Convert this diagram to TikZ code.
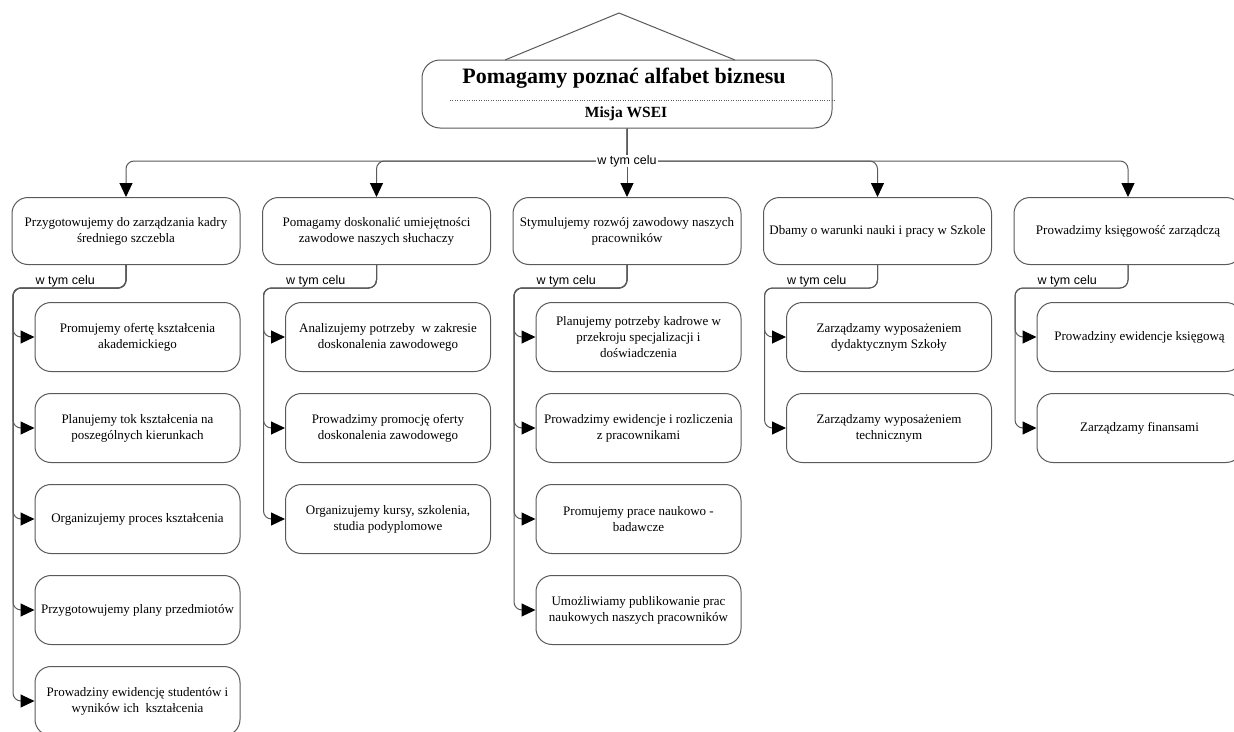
\documentclass[tikz,border=0pt]{standalone}
\usepackage{fontspec}
\setmainfont{Liberation Serif}
\setsansfont{Liberation Sans}
\usetikzlibrary{arrows.meta}

\definecolor{linegray}{RGB}{90,90,90}

\tikzset{
  goal/.style={draw=linegray, line width=1pt, rounded corners=16pt,
    minimum width=228pt, minimum height=67pt, inner sep=2pt, align=center,
    font=\fontsize{13}{16}\selectfont},
  task/.style={draw=linegray, line width=1pt, rounded corners=16pt,
    minimum width=205pt, minimum height=69pt, inner sep=2pt, align=center,
    font=\fontsize{13}{16}\selectfont},
  link/.style={draw=linegray, line width=1pt, rounded corners=8pt,
    -{Triangle[length=14pt,width=13pt,color=black]}},
  purpose/.style={font=\sffamily\fontsize{12.5}{14}\selectfont, inner sep=0.5pt},
}

\begin{document}
\begin{tikzpicture}[x=1pt, y=-1pt]
  \useasboundingbox (0,0) rectangle (1234,731);
  \fill[white] (0,0) rectangle (1234,731);
  \clip (0,0) rectangle (1234,731);

  % mission
  \node[draw=linegray, line width=1pt, rounded corners=18pt,
        minimum width=410pt, minimum height=68pt] (m) at (627,94) {};
  \node[font=\bfseries\fontsize{22}{25}\selectfont] (t) at (624,78) {Pomagamy poznać alfabet biznesu};
  \node[font=\bfseries\fontsize{15.5}{18}\selectfont] (w) at (626,114) {Misja WSEI};
  \coordinate (dl) at (450,100);
  \coordinate (dr) at (836,100);
  \draw[linegray, dotted] (dl) -- (dr);
  \coordinate (apex) at (619,13);
  \coordinate (bl) at (505,60);
  \coordinate (br) at (735,60);
  \draw[linegray, line width=1pt] (bl) -- (apex) -- (br);

  % goals
  \node[goal] (p1) at (126,231) {Przygotowujemy do zarządzania kadry\\średniego szczebla};
  \node[goal] (p2) at (376.5,231) {Pomagamy doskonalić umiejętności\\zawodowe naszych słuchaczy};
  \node[goal] (p3) at (627,231) {Stymulujemy rozwój zawodowy naszych\\pracowników};
  \node[goal] (p4) at (877.5,231) {Dbamy o warunki nauki i pracy w Szkole};
  \node[goal] (p5) at (1128,231) {Prowadzimy księgowość zarządczą};

  \coordinate (hub) at (627,161);
  \draw[link] (m.south) -- (hub) -| (p1.north);
  \draw[link] (m.south) -- (hub) -| (p2.north);
  \draw[link] (m.south) -- (p3.north);
  \draw[link] (m.south) -- (hub) -| (p4.north);
  \draw[link] (m.south) -- (hub) -| (p5.north);
  \node[purpose, fill=white, inner xsep=1pt] (h) at (hub) {w tym celu};

  % tasks
  \node[task] (c11) at (137.5,337) {Promujemy ofertę kształcenia\\akademickiego};
  \node[task] (c12) at (137.5,428) {Planujemy tok kształcenia na\\poszególnych kierunkach};
  \node[task] (c13) at (137.5,519) {Organizujemy proces kształcenia};
  \node[task] (c14) at (137.5,610) {Przygotowujemy plany przedmiotów};
  \node[task] (c15) at (137.5,701) {Prowadziny ewidencję studentów i\\wyników ich~ kształcenia};

  \node[task] (c21) at (388,337) {Analizujemy potrzeby~ w zakresie\\doskonalenia zawodowego};
  \node[task] (c22) at (388,428) {Prowadzimy promocję oferty\\doskonalenia zawodowego};
  \node[task] (c23) at (388,519) {Organizujemy kursy, szkolenia,\\studia podyplomowe};

  \node[task] (c31) at (638.5,337) {Planujemy potrzeby kadrowe w\\przekroju specjalizacji i\\doświadczenia};
  \node[task] (c32) at (638.5,428) {Prowadzimy ewidencje i rozliczenia\\z pracownikami};
  \node[task] (c33) at (638.5,519) {Promujemy prace naukowo -\\badawcze};
  \node[task] (c34) at (638.5,610) {Umożliwiamy publikowanie prac\\naukowych naszych pracowników};

  \node[task] (c41) at (889,337) {Zarządzamy wyposażeniem\\dydaktycznym Szkoły};
  \node[task] (c42) at (889,428) {Zarządzamy wyposażeniem\\technicznym};

  \node[task] (c51) at (1139.5,337) {Prowadziny ewidencje księgową};
  \node[task] (c52) at (1139.5,428) {Zarządzamy finansami};

  % spines
  \coordinate (s1) at (13,288);
  \coordinate (s2) at (263.5,288);
  \coordinate (s3) at (514,288);
  \coordinate (s4) at (764.5,288);
  \coordinate (s5) at (1015,288);

  \draw[link] (p1.south) |- (s1) |- (c11.west);
  \draw[link] (p1.south) |- (s1) |- (c12.west);
  \draw[link] (p1.south) |- (s1) |- (c13.west);
  \draw[link] (p1.south) |- (s1) |- (c14.west);
  \draw[link] (p1.south) |- (s1) |- (c15.west);

  \draw[link] (p2.south) |- (s2) |- (c21.west);
  \draw[link] (p2.south) |- (s2) |- (c22.west);
  \draw[link] (p2.south) |- (s2) |- (c23.west);

  \draw[link] (p3.south) |- (s3) |- (c31.west);
  \draw[link] (p3.south) |- (s3) |- (c32.west);
  \draw[link] (p3.south) |- (s3) |- (c33.west);
  \draw[link] (p3.south) |- (s3) |- (c34.west);

  \draw[link] (p4.south) |- (s4) |- (c41.west);
  \draw[link] (p4.south) |- (s4) |- (c42.west);

  \draw[link] (p5.south) |- (s5) |- (c51.west);
  \draw[link] (p5.south) |- (s5) |- (c52.west);

  \node[purpose, anchor=south west] (l1) at (35,288) {w tym celu};
  \node[purpose, anchor=south west] (l2) at (285.5,288) {w tym celu};
  \node[purpose, anchor=south west] (l3) at (536,288) {w tym celu};
  \node[purpose, anchor=south west] (l4) at (786.5,288) {w tym celu};
  \node[purpose, anchor=south west] (l5) at (1037,288) {w tym celu};
\end{tikzpicture}
\end{document}
